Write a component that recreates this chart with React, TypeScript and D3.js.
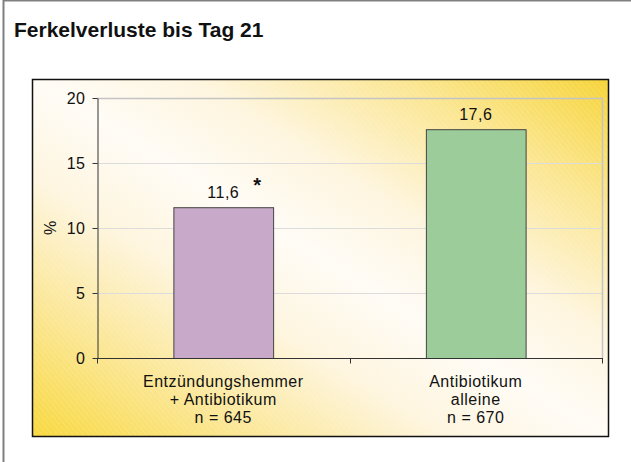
import React from 'react';
import * as d3 from 'd3';

// chart values
const groupKeys = ['kombi', 'allein'];
const groupLabels = [
    ['Entzündungshemmer', '+ Antibiotikum', 'n = 645'],
    ['Antibiotikum', 'alleine', 'n = 670'],
];
const lossPercent = [11.6, 17.6];
const valueLabels = ['11,6', '17,6'];
const significance = ['*', ''];
const barColors = ['#c8a9c9', '#9ccc99'];
const yTicks = [0, 5, 10, 15, 20];

const W = 631;
const H = 462;
const FONT = '"Liberation Sans", Arial, Helvetica, sans-serif';

const box = {x: 32, y: 79, w: 576, h: 357};
const plot = {left: 97, right: 602, top: 98, bottom: 358};

const App = () => {
    const svgRef = React.useRef<SVGSVGElement>(null);

    React.useEffect(() => {
        const svg = d3.select(svgRef.current);
        svg.selectAll('*').remove();

        const defs = svg.append('defs');
        const grad = defs.append('linearGradient')
            .attr('id', 'bg')
            .attr('x1', 0).attr('y1', 1)
            .attr('x2', 1).attr('y2', 0);
        [
            [0, '#f8d83e'],
            [0.18, '#fbe692'],
            [0.36, '#fef5de'],
            [0.5, '#fffcf6'],
            [0.64, '#fef5de'],
            [0.82, '#fbe692'],
            [1, '#f6d438'],
        ].forEach(([o, c]) => grad.append('stop').attr('offset', o as number).attr('stop-color', c as string));

        const hatch = defs.append('pattern')
            .attr('id', 'hatch')
            .attr('width', 4).attr('height', 4)
            .attr('patternUnits', 'userSpaceOnUse')
            .attr('patternTransform', 'rotate(-40)');
        hatch.append('line')
            .attr('x1', 0).attr('y1', 0).attr('x2', 0).attr('y2', 4)
            .attr('stroke', '#ffffff').attr('stroke-width', 1).attr('opacity', 0.25);

        // outer frame (left + top only visible)
        svg.append('path')
            .attr('d', `M3.5,${H} V0.5 H${W}`)
            .attr('fill', 'none')
            .attr('stroke', '#808080')
            .attr('stroke-width', 2);

        svg.append('text')
            .attr('x', 14).attr('y', 37)
            .attr('font-family', FONT)
            .attr('font-size', 21)
            .attr('font-weight', 'bold')
            .attr('fill', '#111')
            .text('Ferkelverluste bis Tag 21');

        svg.append('rect')
            .attr('x', box.x).attr('y', box.y)
            .attr('width', box.w).attr('height', box.h)
            .attr('fill', 'url(#bg)');
        svg.append('rect')
            .attr('x', box.x).attr('y', box.y)
            .attr('width', box.w).attr('height', box.h)
            .attr('fill', 'url(#hatch)');
        svg.append('rect')
            .attr('x', box.x + 0.5).attr('y', box.y + 0.5)
            .attr('width', box.w).attr('height', box.h)
            .attr('fill', 'none')
            .attr('stroke', '#111')
            .attr('stroke-width', 1.5);

        const x = d3.scaleBand()
            .domain(groupKeys)
            .range([plot.left, plot.right])
            .paddingInner(0.605)
            .paddingOuter(0.3025);
        const y = d3.scaleLinear().domain([0, 20]).range([plot.bottom, plot.top]);

        // gridlines + plot border
        svg.append('g')
            .selectAll('line')
            .data(yTicks.filter(t => t > 0))
            .join('line')
            .attr('x1', plot.left).attr('x2', plot.right)
            .attr('y1', d => y(d) + 0.5).attr('y2', d => y(d) + 0.5)
            .attr('stroke', d => d === 20 ? '#c4c4c4' : '#dcdcdc')
            .attr('stroke-width', d => d === 20 ? 1.5 : 1);
        svg.append('line')
            .attr('x1', plot.right + 0.5).attr('x2', plot.right + 0.5)
            .attr('y1', y(20)).attr('y2', y(0))
            .attr('stroke', '#c4c4c4').attr('stroke-width', 1.5);

        // bars
        svg.append('g')
            .selectAll('rect')
            .data(lossPercent)
            .join('rect')
            .attr('x', (d, i) => x(groupKeys[i])! + 0.5)
            .attr('y', d => y(d) + 0.5)
            .attr('width', x.bandwidth())
            .attr('height', d => y(0) - y(d))
            .attr('fill', (d, i) => barColors[i])
            .attr('stroke', '#444')
            .attr('stroke-width', 1);

        // value labels
        svg.append('g')
            .selectAll('text')
            .data(lossPercent)
            .join('text')
            .attr('x', (d, i) => x(groupKeys[i])! + x.bandwidth() / 2)
            .attr('y', d => y(d) - 9)
            .attr('text-anchor', 'middle')
            .attr('font-family', FONT)
            .attr('font-size', 16)
            .attr('letter-spacing', 0.5)
            .attr('fill', '#111')
            .text((d, i) => valueLabels[i]);

        svg.append('g')
            .selectAll('text')
            .data(lossPercent)
            .join('text')
            .attr('x', (d, i) => x(groupKeys[i])! + x.bandwidth() * 0.84)
            .attr('y', d => y(d) - 15)
            .attr('text-anchor', 'middle')
            .attr('font-family', FONT)
            .attr('font-size', 20)
            .attr('font-weight', 'bold')
            .attr('fill', '#111')
            .text((d, i) => significance[i]);

        // y axis
        const yAxis = d3.axisLeft(y).tickValues(yTicks).tickSize(5).tickPadding(7).tickSizeOuter(0);
        const yG = svg.append('g')
            .attr('transform', `translate(${plot.left + 0.5},0)`)
            .call(yAxis);
        yG.select('.domain').attr('stroke', '#333');
        yG.selectAll('.tick line').attr('stroke', '#333');
        yG.selectAll('.tick text')
            .attr('font-family', FONT)
            .attr('font-size', 16)
            .attr('letter-spacing', 0.5)
            .attr('fill', '#111');

        // x axis
        const xG = svg.append('g')
            .attr('transform', `translate(0,${plot.bottom + 0.5})`);
        xG.append('line')
            .attr('x1', plot.left).attr('x2', plot.right + 1)
            .attr('stroke', '#333');
        xG.selectAll('line.tick')
            .data([plot.left, (x(groupKeys[0])! + x.bandwidth() + x(groupKeys[1])!) / 2, plot.right])
            .join('line')
            .attr('class', 'tick')
            .attr('x1', d => Math.round(d) + 0.5).attr('x2', d => Math.round(d) + 0.5)
            .attr('y1', 0).attr('y2', 5)
            .attr('stroke', '#333');

        const labelG = xG.selectAll('text')
            .data(groupKeys)
            .join('text')
            .attr('x', d => x(d)! + x.bandwidth() / 2)
            .attr('y', 28)
            .attr('text-anchor', 'middle')
            .attr('font-family', FONT)
            .attr('font-size', 16)
            .attr('letter-spacing', 0.5)
            .attr('fill', '#111');
        labelG.selectAll('tspan')
            .data((d, i) => groupLabels[i])
            .join('tspan')
            .attr('x', function () { return (this.parentNode as SVGTextElement).getAttribute('x'); })
            .attr('dy', (d, i) => i === 0 ? 0 : 18)
            .text(d => d);

        svg.append('text')
            .attr('transform', `translate(56,${(plot.top + plot.bottom) / 2}) rotate(-90)`)
            .attr('text-anchor', 'middle')
            .attr('font-family', FONT)
            .attr('font-size', 16)
            .attr('fill', '#111')
            .text('%');
    }, []);

    return (
        <svg ref={svgRef} width={W} height={H}
             style={{position: 'absolute', left: 0, top: 0, background: '#fff'}}/>
    );
};

export default App;
